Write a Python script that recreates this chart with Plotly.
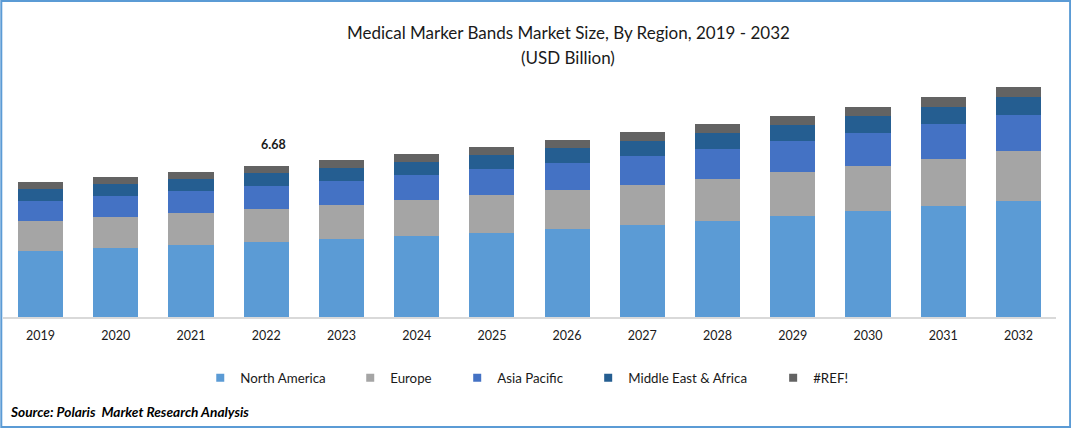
import plotly.graph_objects as go

W, H = 1071, 428

years = ["2019", "2020", "2021", "2022", "2023", "2024", "2025",
         "2026", "2027", "2028", "2029", "2030", "2031", "2032"]

north_america = [2.92, 3.05, 3.19, 3.32, 3.45, 3.58, 3.72, 3.89, 4.07, 4.25, 4.47, 4.69, 4.91, 5.13]
europe = [1.33, 1.37, 1.42, 1.46, 1.50, 1.59, 1.68, 1.73, 1.77, 1.86, 1.95, 1.99, 2.08, 2.21]
asia_pacific = [0.88, 0.93, 0.97, 1.02, 1.06, 1.11, 1.15, 1.19, 1.28, 1.33, 1.37, 1.46, 1.55, 1.59]
mea = [0.53, 0.53, 0.53, 0.58, 0.58, 0.58, 0.62, 0.66, 0.66, 0.71, 0.71, 0.75, 0.75, 0.80]
ref = [0.31, 0.31, 0.31, 0.31, 0.35, 0.35, 0.35, 0.35, 0.40, 0.40, 0.40, 0.40, 0.44, 0.44]

names = ["North America", "Europe", "Asia Pacific", "Middle East & Africa", "#REF!"]
series = [north_america, europe, asia_pacific, mea, ref]
colors = ["#5B9BD5", "#A5A5A5", "#4472C4", "#255E91", "#636363"]
legend_x = [200, 350, 457, 588, 773]  # левый край каждой легенды, px

FONT = "Lato"
TEXT = "#1a1a1a"

# область графика в пикселях
L, R, T, B = 2.7, 1055.9, 60, 317
PW, PH = R - L, B - T


def px_x(x):
    return (x - L) / PW


def px_y(y):
    return (B - y) / PH


fig = go.Figure()
for i, (name, vals, col) in enumerate(zip(names, series, colors)):
    fig.add_trace(go.Bar(x=years, y=vals, name=name, marker_color=col, marker_line_width=0, showlegend=False))
    # пустой trace только ради маленького квадрата в легенде
    fig.add_trace(go.Scatter(x=[None], y=[None], mode="markers", name=name,
                             marker=dict(symbol="square", size=8, color=col),
                             legend="legend" if i == 0 else f"legend{i + 1}"))

legends = {}
for i, lx in enumerate(legend_x):
    legends["legend" if i == 0 else f"legend{i + 1}"] = dict(
        x=px_x(lx), y=px_y(378), xanchor="left", yanchor="middle",
        bgcolor="rgba(0,0,0,0)", font=dict(family=FONT, size=13.3, color=TEXT))

fig.update_layout(
    width=W, height=H, barmode="stack", bargap=0.4,
    margin=dict(l=L, r=W - R, t=T, b=H - B),
    paper_bgcolor="white", plot_bgcolor="white",
    showlegend=True,
    font=dict(family=FONT, color=TEXT),
    xaxis=dict(type="category", range=[-0.5, 13.5], automargin=False, showgrid=False, showline=True,
               linecolor="#D9D9D9", linewidth=2, ticks="", ticklabelstandoff=6,
               tickfont=dict(family=FONT, size=12.5, color=TEXT)),
    yaxis=dict(visible=False, range=[0, 11.37]),
    **legends,
)

fig.add_annotation(x=px_x(568), y=px_y(33), xref="paper", yref="paper", showarrow=False, yanchor="middle",
                   text="Medical Marker Bands Market Size, By Region, 2019 - 2032",
                   font=dict(family=FONT, size=17, color=TEXT))
fig.add_annotation(x=px_x(568), y=px_y(57), xref="paper", yref="paper", showarrow=False, yanchor="middle",
                   text="(USD Billion)", font=dict(family=FONT, size=17, color=TEXT))
fig.add_annotation(x=3, y=6.69, xshift=7, yshift=21, showarrow=False,
                   text="<b>6.68</b>", font=dict(family=FONT, size=12.5, color=TEXT))
fig.add_annotation(x=px_x(8), y=px_y(411), xref="paper", yref="paper", showarrow=False,
                   xanchor="left", yanchor="middle",
                   text="<b><i>Source: Polaris  Market Research Analysis</i></b>",
                   font=dict(family=FONT, size=13.7, color="black"))

# синяя рамка вокруг картинки
fig.add_shape(type="rect", xref="paper", yref="paper", x0=px_x(1), x1=px_x(W - 1), y0=px_y(H - 1), y1=px_y(1),
              line=dict(color="#5B9BD5", width=2), layer="above")

# убираем отступ body, иначе картинка съезжает на 8px
fig.write_html("out.html", config={"displayModeBar": False},
               post_script="document.body.style.margin='0';")
